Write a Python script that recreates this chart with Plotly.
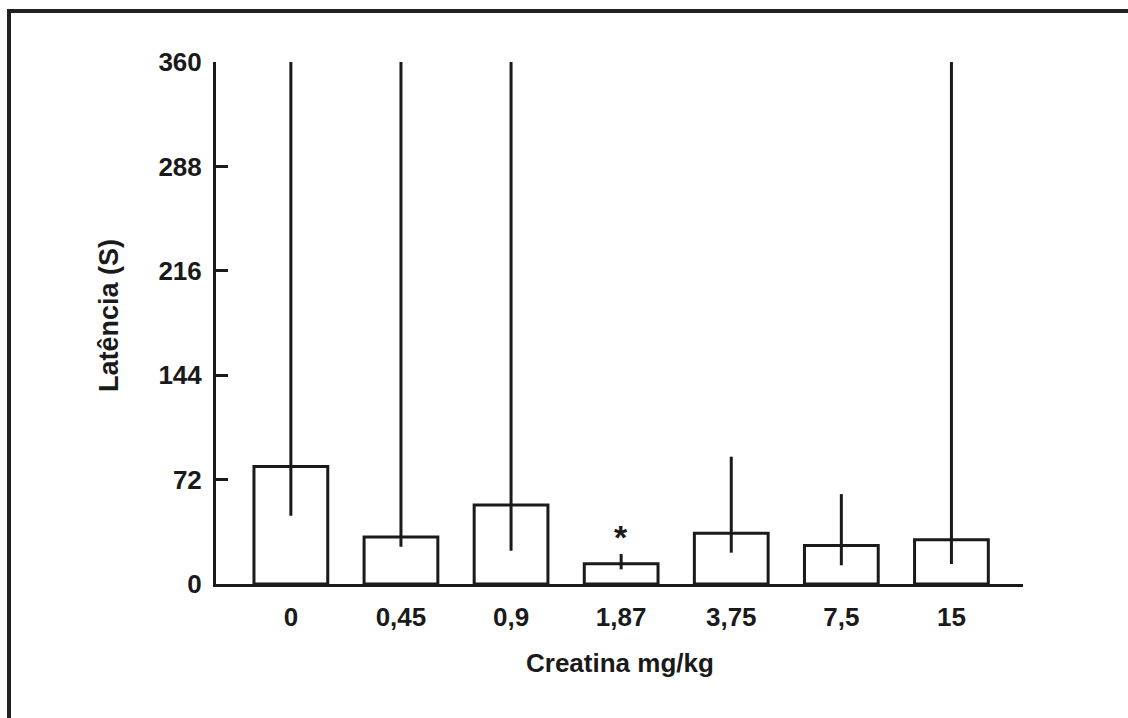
import plotly.graph_objects as go

categories = ["0", "0,45", "0,9", "1,87", "3,75", "7,5", "15"]
medians = [81, 32.5, 54.5, 14, 35, 26.5, 30.5]
upper = [360, 360, 360, 20.7, 87.8, 62, 360]
lower = [47, 25.7, 23, 10.1, 21.6, 12.9, 13.8]
y_ticks = [0, 72, 144, 216, 288, 360]
sig_category = "1,87"

plus = [u - m for u, m in zip(upper, medians)]
minus = [m - l for m, l in zip(medians, lower)]

FONT = "Liberation Sans, Arial, sans-serif"
INK = "#1a1a1a"

W, H = 1128, 718
L, T = 216, 62
PW, PH = 807, 522
R, B = W - L - PW, H - T - PH


def px(xp):  # page x -> paper
    return (xp - L) / PW


def py(yp):  # page y -> paper
    return (T + PH - yp) / PH


fig = go.Figure()
fig.add_trace(go.Bar(
    x=categories, y=medians,
    marker=dict(color="white", line=dict(color=INK, width=3)),
    width=0.67,
    error_y=dict(type="data", symmetric=False, array=plus, arrayminus=minus,
                 color=INK, thickness=3, width=0),
    cliponaxis=False,
))

sig_idx = categories.index(sig_category)
fig.add_annotation(x=sig_category, y=upper[sig_idx], text="<b>*</b>", showarrow=False,
                   yanchor="bottom", yshift=-4, font=dict(family=FONT, size=34, color=INK))

fig.add_annotation(xref="paper", yref="paper", x=px(620), y=py(663),
                   text="<b>Creatina mg/kg</b>", showarrow=False, xanchor="center", yanchor="middle",
                   font=dict(family=FONT, size=26, color=INK))
fig.add_annotation(xref="paper", yref="paper", x=px(109), y=py(316),
                   text="<b>Latência (S)</b>", showarrow=False, textangle=-90,
                   xanchor="center", yanchor="middle",
                   font=dict(family=FONT, size=27, color=INK))

# figure frame: only left and top edges are visible in the reference
fig.add_shape(type="line", xref="paper", yref="paper",
              x0=px(9), x1=px(9), y0=py(9), y1=py(760),
              line=dict(color="#222", width=4), layer="above")
fig.add_shape(type="line", xref="paper", yref="paper",
              x0=px(7), x1=px(1200), y0=py(11), y1=py(11),
              line=dict(color="#222", width=4), layer="above")

fig.update_layout(
    width=W, height=H,
    margin=dict(l=L, r=R, t=T, b=B, pad=0),
    paper_bgcolor="white", plot_bgcolor="white",
    showlegend=False,
    font=dict(family=FONT, size=26, color=INK),
)
fig.update_xaxes(
    range=[-0.68, 6.65], showline=True, linewidth=3, linecolor=INK,
    ticks="", showgrid=False, zeroline=False,
    tickfont=dict(family=FONT, size=26, color=INK, weight="bold"),
    ticklabelstandoff=8,
)
fig.update_yaxes(
    range=[0, 360], tickvals=y_ticks, ticktext=[str(v) for v in y_ticks],
    showline=True, linewidth=3, linecolor=INK,
    ticks="inside", ticklen=12, tickwidth=3, tickcolor=INK,
    showgrid=False, zeroline=False,
    tickfont=dict(family=FONT, size=26, color=INK, weight="bold"),
    ticklabelstandoff=6,
)

fig.write_html(
    "out.html",
    config={"displayModeBar": False},
    post_script="document.body.style.margin='0';document.body.style.overflow='hidden';",
)
